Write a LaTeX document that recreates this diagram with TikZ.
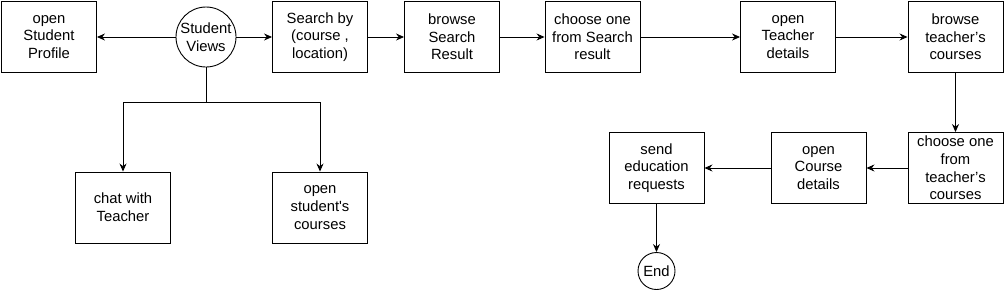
\documentclass[tikz,border=0pt]{standalone}
\usepackage{fontspec}
\setmainfont{Liberation Sans}
\newfontfamily\straightap{Liberation Sans}
\usetikzlibrary{arrows.meta}
\begin{document}
\begin{tikzpicture}[x=1pt,y=-1pt,
  box/.style={draw,line width=0.9pt,minimum width=95pt,minimum height=71pt,inner sep=1pt,align=center,font=\fontsize{14.8}{17.6}\selectfont},
  circ/.style={draw,circle,line width=0.9pt,inner sep=0pt,align=center,font=\fontsize{14.8}{17.6}\selectfont},
  conn/.style={line width=0.9pt,-{Stealth[length=8pt,width=7pt]}}]
\useasboundingbox (0,0) rectangle (1005,290);
\node[box] (prof) at (49,37) {open\\Student\\Profile};
\node[circ,minimum size=60pt] (sv) at (206,37) {Student\\Views};
\node[box] (srch) at (320,37) {Search by\\(course ,\\location)};
\node[box] (bsr) at (452,37) {browse\\Search\\Result};
\node[box] (cos) at (592.5,37) {choose one\\from Search\\result};
\node[box] (otd) at (788,37) {open\\Teacher\\details};
\node[box] (btc) at (955.5,37) {browse\\teacher’s\\courses};
\node[box] (chat) at (123,207.5) {chat with\\Teacher};
\node[box] (osc) at (320,207.5) {open\\student{\straightap '}s\\courses};
\node[box] (cotc) at (955.5,168) {choose one\\from\\teacher’s\\courses};
\node[box] (ocd) at (818.5,168) {open\\Course\\details};
\node[box] (ser) at (656.5,168) {send\\education\\requests};
\node[circ,minimum size=37pt] (end) at (656.5,271) {End};
\coordinate (br) at (206,102);
\draw[conn] (sv) -- (prof);
\draw[conn] (sv) -- (srch);
\draw[conn] (srch) -- (bsr);
\draw[conn] (bsr) -- (cos);
\draw[conn] (cos) -- (otd);
\draw[conn] (otd) -- (btc);
\draw[conn] (btc) -- (cotc);
\draw[conn] (cotc) -- (ocd);
\draw[conn] (ocd) -- (ser);
\draw[conn] (ser) -- (end);
\draw[line width=0.9pt] (sv) -- (br);
\draw[conn] (br) -| (chat);
\draw[conn] (br) -| (osc);
\end{tikzpicture}
\end{document}
